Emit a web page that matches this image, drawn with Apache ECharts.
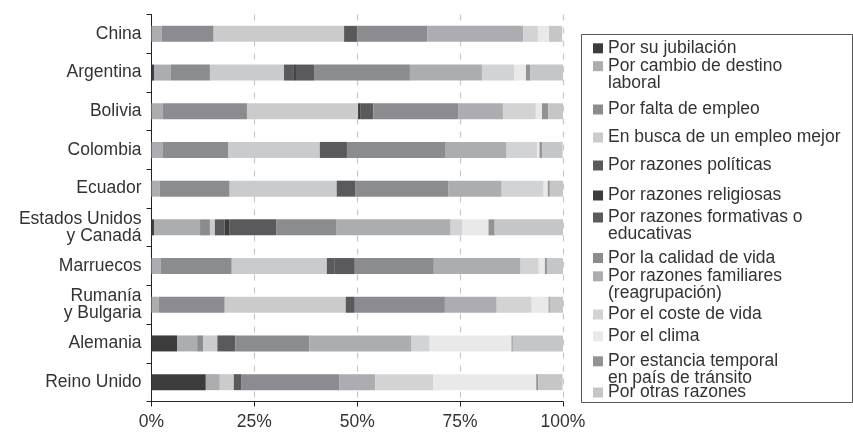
<!DOCTYPE html>
<html>
<head>
<meta charset="utf-8">
<script src="https://cdn.jsdelivr.net/npm/echarts@6/dist/echarts.min.js"></script>
<style>
  html, body { margin: 0; padding: 0; background: #fff; }
  #chart { width: 853px; height: 433px; }
</style>
</head>
<body>
<div id="chart"></div>
<script>
// countries, top to bottom
const countries = ['China', 'Argentina', 'Bolivia', 'Colombia', 'Ecuador', 'Estados Unidos\ny Canadá',
  'Marruecos', 'Rumanía\ny Bulgaria', 'Alemania', 'Reino Unido']

const reasons = [
  'Por su jubilación',
  'Por cambio de destino\nlaboral',
  'Por falta de empleo',
  'En busca de un empleo mejor',
  'Por razones políticas',
  'Por razones religiosas',
  'Por razones formativas o\neducativas',
  'Por la calidad de vida',
  'Por razones familiares\n(reagrupación)',
  'Por el coste de vida',
  'Por el clima',
  'Por estancia temporal\nen país de tránsito',
  'Por otras razones',
]

// percentages per reason, same order as countries
const jubilacion = [0, 0.6, 0, 0, 0, 0.6, 0, 0, 6.2, 13.2]
const cambioDestino = [2.5, 4.1, 2.8, 2.8, 2.0, 11.2, 2.3, 1.8, 4.9, 3.4]
const faltaEmpleo = [12.6, 9.5, 20.4, 15.8, 17.0, 2.4, 17.2, 16.0, 1.5, 0]
const empleoMejor = [31.7, 18.0, 27.0, 22.3, 26.0, 1.2, 23.1, 29.4, 3.4, 3.4]
const politicas = [3.2, 2.4, 0, 6.6, 4.6, 2.4, 1.9, 2.2, 4.4, 1.9]
const religiosas = [0, 0.5, 0.5, 0, 0, 1.2, 0.3, 0, 0, 0]
const formativas = [0, 4.4, 3.2, 0, 0, 11.4, 4.6, 0, 0, 0]
const calidadVida = [17.0, 23.3, 20.6, 24.0, 22.6, 14.6, 19.2, 21.9, 18.0, 23.8]
const familiares = [23.3, 17.5, 10.9, 14.8, 12.9, 27.7, 21.1, 12.6, 24.8, 8.7]
const costeVida = [3.6, 7.8, 8.0, 7.5, 10.2, 2.9, 4.4, 8.5, 4.4, 14.1]
const clima = [2.7, 2.9, 1.5, 0.5, 1.0, 6.3, 1.5, 4.1, 19.9, 25.0]
const estancia = [0, 1.0, 1.5, 0.7, 0.5, 1.5, 0.5, 0.3, 0.3, 0.5]
const otras = [3.2, 8.0, 3.6, 4.9, 3.2, 16.6, 3.9, 3.2, 12.2, 5.9]

const xTicks = [0, 25, 50, 75, 100]

const values = [jubilacion, cambioDestino, faltaEmpleo, empleoMejor, politicas, religiosas, formativas,
  calidadVida, familiares, costeVida, clima, estancia, otras]

const colors = ['#3c3c3c', '#acadb0', '#8b8c8f', '#cacbcd', '#5a5a5c', '#3c3c3c', '#5a5a5c',
  '#8b8c8f', '#acadb0', '#d2d3d4', '#e9e9ea', '#929395', '#c5c6c7']

// icon centre of each legend row (px)
const legendY = [47.8, 65.7, 109, 137, 165, 195, 217, 257.5, 275.8, 314, 335.8, 360.8, 392]

const FONT = '"Liberation Sans", Arial, sans-serif'
const LINE = 17

const chart = echarts.init(document.getElementById('chart'), null, { renderer: 'canvas' })

// legend text is centred on the icon, so a blank line on top of two-line
// names puts the icon next to their first line
const legends = reasons.map((name, i) => {
  const twoLines = name.includes('\n')
  return {
    data: [name],
    left: 593,
    top: legendY[i] - (twoLines ? 25.5 : 8.5),
    orient: 'vertical',
    padding: 0,
    itemWidth: 10,
    itemHeight: 10,
    icon: 'rect',
    selectedMode: false,
    formatter: (n) => (n.includes('\n') ? '\n' + n : n),
    textStyle: {
      fontFamily: FONT,
      fontSize: 17.5,
      color: '#333',
      lineHeight: LINE,
    },
  }
})

chart.setOption({
  animation: false,
  color: colors,
  grid: { left: 151.5, right: 290, top: 14.5, bottom: 31.5 },
  legend: legends,
  graphic: [
    {
      type: 'rect',
      shape: { x: 581.5, y: 34.5, width: 271, height: 368 },
      style: { fill: 'none', stroke: '#555', lineWidth: 1 },
    },
  ],
  xAxis: {
    type: 'value',
    min: xTicks[0],
    max: xTicks[xTicks.length - 1],
    interval: 25,
    axisLine: { show: true, lineStyle: { color: '#222', width: 1 } },
    axisTick: { show: true, length: 5, lineStyle: { color: '#222' } },
    axisLabel: {
      formatter: '{value}%',
      fontFamily: FONT,
      fontSize: 17.5,
      color: '#333',
      margin: 12,
    },
    splitLine: { show: true, lineStyle: { color: '#c8c8c8', type: [6, 7], width: 1.2 } },
  },
  yAxis: {
    type: 'category',
    inverse: true,
    data: countries,
    axisLine: { show: true, lineStyle: { color: '#222', width: 1 } },
    axisTick: { show: true, length: 5, lineStyle: { color: '#222' } },
    axisLabel: {
      fontFamily: FONT,
      fontSize: 17.5,
      color: '#333',
      lineHeight: 17,
      margin: 10,
    },
  },
  series: reasons.map((name, i) => ({
    name,
    type: 'bar',
    stack: 'total',
    barWidth: 16,
    data: values[i],
    itemStyle: { color: colors[i] },
  })),
})
</script>
</body>
</html>
